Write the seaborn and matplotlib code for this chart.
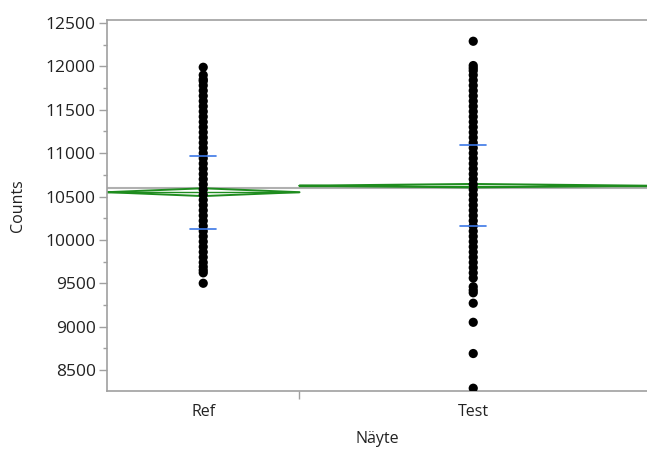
import matplotlib
matplotlib.use('Agg')

import matplotlib.pyplot as plt
from matplotlib.ticker import MultipleLocator, FixedLocator
import seaborn as sns
import pandas as pd
import numpy as np

# --- data ---
groups = ["Ref", "Test"]
group_n = [360, 650]          # group sizes (JMP scales the x widths by n)

ref_counts = [
    11990, 11900, 11850,
    11830, 11780, 11720, 11660, 11600, 11540, 11480, 11420, 11360, 11300,
    11240, 11180, 11120, 11060, 11000, 10940, 10880, 10820, 10760, 10700,
    10640, 10580, 10520, 10460, 10400, 10340, 10280, 10220, 10160, 10100,
    10040, 9980, 9920, 9860, 9800, 9740,
    9690, 9650, 9620, 9500,
]
test_counts = [
    12290, 12010, 11980, 11950,
    11900, 11840, 11780, 11720, 11660, 11600, 11540, 11480, 11420, 11360,
    11300, 11240, 11180, 11120, 11060, 11000, 10940, 10880, 10820, 10760,
    10700, 10640, 10580, 10520, 10460, 10400, 10340, 10280, 10220, 10160,
    10100, 10040, 9980, 9920, 9860, 9800, 9740, 9680, 9620,
    9560, 9460, 9420, 9390, 9270, 9050, 8690, 8290,
]

group_mean = [10550, 10625]
group_ci = [45, 20]           # half height of the means diamonds
group_sd = [420, 465]

# --- layout ---
sns.set_style("white")
plt.rcParams['font.family'] = ['Open Sans', 'DejaVu Sans']

fig = plt.figure(figsize=(6.47, 4.5), dpi=100)
ax = fig.add_axes([107 / 647, 59 / 450, 1 - 107 / 647, (391 - 20) / 450])

total = sum(group_n)
edges = np.concatenate([[0], np.cumsum(group_n) / total])
centers = (edges[:-1] + edges[1:]) / 2

df = pd.DataFrame({
    "Näyte": ["Ref"] * len(ref_counts) + ["Test"] * len(test_counts),
    "Counts": ref_counts + test_counts,
})
df["x"] = df["Näyte"].map(dict(zip(groups, centers)))

grand_mean = np.average(group_mean, weights=group_n)
ax.axhline(grand_mean, color="#b0b0b0", lw=1.5, zorder=1)

green = "#1e8c1e"
for i, g in enumerate(groups):
    l, r, c = edges[i], edges[i + 1], centers[i]
    m, ci, sd = group_mean[i], group_ci[i], group_sd[i]
    ax.plot([l, c, r, c, l], [m, m + ci, m, m - ci, m], color=green, lw=1.4, zorder=2)
    ax.plot([l, r], [m, m], color=green, lw=1.0, zorder=2)
    for y in (m - sd, m + sd):
        ax.plot([c - 0.024, c + 0.024], [y, y], color="#3c78e6", lw=1.2, zorder=4)

sns.scatterplot(data=df, x="x", y="Counts", color="black", s=44,
                edgecolor="none", ax=ax, zorder=3, legend=False)

ax.set_xlim(0, 1)
ax.set_ylim(8258, 12535)
ax.yaxis.set_major_locator(MultipleLocator(500))
ax.yaxis.set_minor_locator(MultipleLocator(250))
ax.xaxis.set_major_locator(FixedLocator(centers))
ax.set_xticklabels(groups)
ax.xaxis.set_minor_locator(FixedLocator(edges[1:-1]))

tick_col = "#222222"
ax.tick_params(axis="y", which="major", length=6, width=1, color="#a0a0a0",
               labelsize=12.5, labelcolor=tick_col, left=True, pad=2)
ax.tick_params(axis="y", which="minor", length=3, width=1, color="#a0a0a0", left=True)
ax.tick_params(axis="x", which="major", length=0, labelsize=11.5,
               labelcolor=tick_col, pad=9)
ax.tick_params(axis="x", which="minor", length=6, width=1, color="#a0a0a0", bottom=True)

for side in ("left", "bottom", "top"):
    ax.spines[side].set_color("#a0a0a0")
    ax.spines[side].set_linewidth(1.2)
ax.spines["right"].set_visible(False)

ax.set_xlabel("Näyte", fontsize=11.5, color=tick_col, labelpad=8)
ax.set_ylabel("Counts", fontsize=11.5, color=tick_col, labelpad=14)

plt.savefig("out.png", dpi=100)
plt.close()
